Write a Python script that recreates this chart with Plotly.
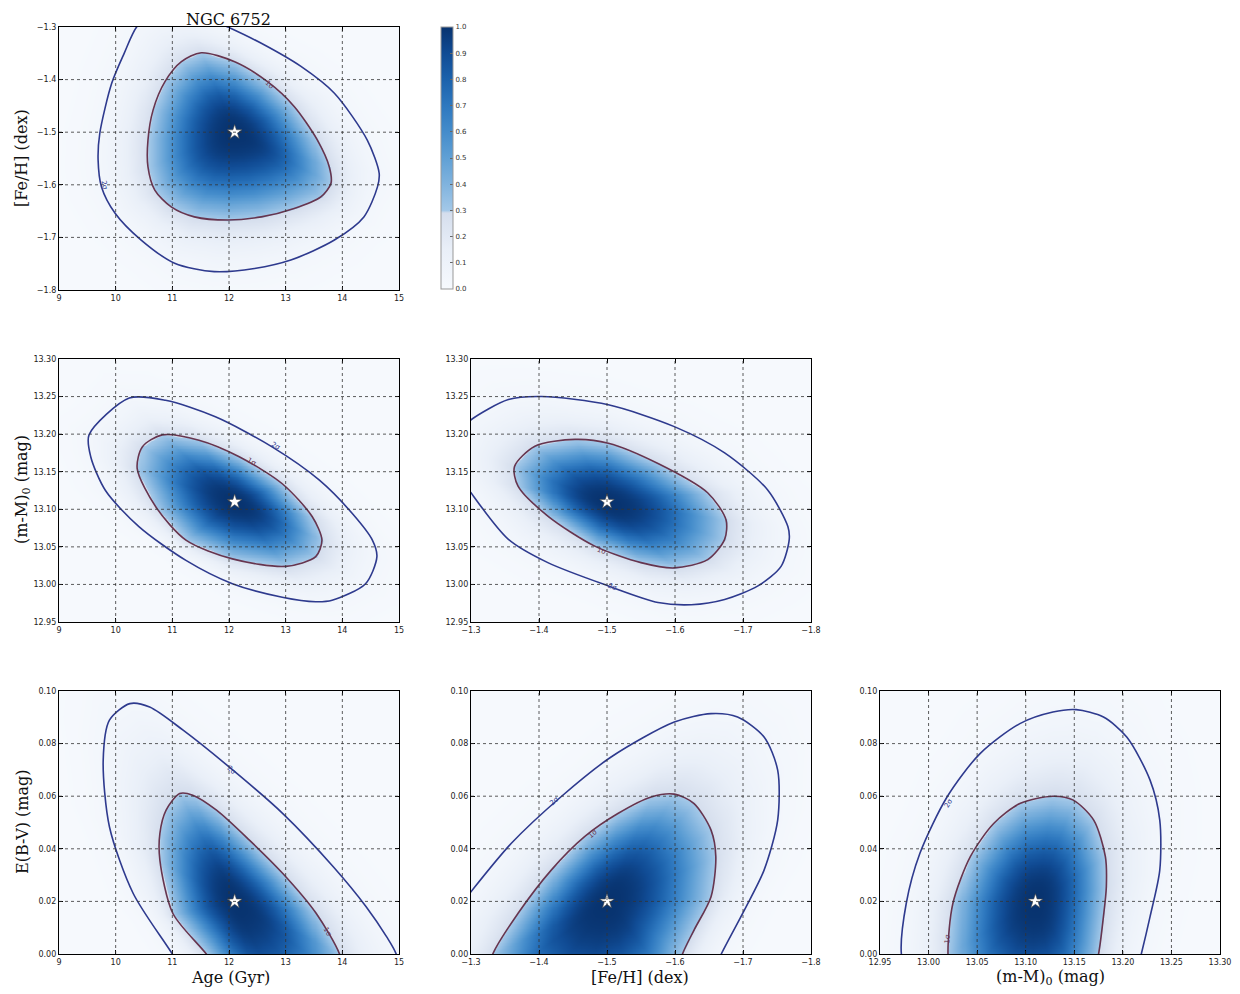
import numpy as np
import plotly.graph_objects as go

# the page places the figure 8 px from the window's top-left corner
OFF = 8
W, H = 1240 - OFF, 994 - OFF

# ---------------- data ----------------
AGE_TICKS = [9, 10, 11, 12, 13, 14, 15]
FEH_TICKS = [-1.3, -1.4, -1.5, -1.6, -1.7, -1.8]
DM_TICKS = [12.95, 13.00, 13.05, 13.10, 13.15, 13.20, 13.25, 13.30]
EBV_TICKS = [0.00, 0.02, 0.04, 0.06, 0.08, 0.10]
CBAR_TICKS = [0.0, 0.1, 0.2, 0.3, 0.4, 0.5, 0.6, 0.7, 0.8, 0.9, 1.0]

AGE_RANGE = [9, 15]
FEH_XRANGE = [-1.3, -1.8]   # [Fe/H] drawn decreasing to the right
FEH_YRANGE = [-1.8, -1.3]   # [Fe/H] drawn increasing upward
DM_RANGE = [12.95, 13.30]
EBV_RANGE = [0.0, 0.10]

BEST_AGE = 12.1
BEST_FEH = -1.5
BEST_DM = 13.11
BEST_EBV = 0.02

# Age vs [Fe/H]
AGE_FEH_1S_X = [11.51, 12.10, 12.68, 13.15, 13.56, 13.77, 13.80, 13.62, 13.15, 12.57, 11.98, 11.39, 10.98, 10.69, 10.57, 10.57, 10.66, 10.87, 11.16]
AGE_FEH_1S_Y = [-1.349, -1.366, -1.404, -1.451, -1.515, -1.566, -1.597, -1.623, -1.645, -1.661, -1.667, -1.661, -1.642, -1.610, -1.566, -1.515, -1.458, -1.404, -1.366]
AGE_FEH_2S_X = [11.98, 11.50, 11.00, 10.60, 10.37, 10.15, 9.93, 9.72, 9.69, 9.75, 9.99, 10.45, 11.04, 11.74, 12.45, 13.09, 13.86, 14.38, 14.62, 14.65, 14.44, 13.86, 13.27, 12.57]
AGE_FEH_2S_Y = [-1.300, -1.278, -1.268, -1.280, -1.300, -1.350, -1.407, -1.502, -1.553, -1.604, -1.654, -1.705, -1.749, -1.765, -1.759, -1.743, -1.705, -1.661, -1.604, -1.578, -1.515, -1.426, -1.375, -1.331]

# Age vs (m-M)0
AGE_DM_1S_X = [10.82, 11.47, 12.18, 12.94, 13.47, 13.64, 13.53, 13.00, 12.06, 11.24, 10.71, 10.38, 10.47]
AGE_DM_1S_Y = [13.199, 13.192, 13.170, 13.134, 13.090, 13.059, 13.037, 13.024, 13.034, 13.059, 13.103, 13.154, 13.183]
AGE_DM_2S_X = [9.53, 10.24, 10.88, 11.76, 12.76, 13.59, 14.18, 14.53, 14.61, 14.41, 13.82, 13.53, 12.94, 12.06, 11.24, 10.41, 9.82, 9.56]
AGE_DM_2S_Y = [13.199, 13.248, 13.245, 13.223, 13.183, 13.139, 13.094, 13.059, 13.037, 13.001, 12.979, 12.977, 12.983, 13.001, 13.032, 13.077, 13.125, 13.170]

# [Fe/H] vs (m-M)0
FEH_DM_1S_X = [-1.364, -1.394, -1.453, -1.502, -1.575, -1.648, -1.675, -1.673, -1.648, -1.599, -1.550, -1.482, -1.413, -1.369]
FEH_DM_1S_Y = [13.157, 13.184, 13.193, 13.188, 13.161, 13.122, 13.086, 13.060, 13.033, 13.022, 13.029, 13.051, 13.091, 13.131]
FEH_DM_2S_X = [-1.300, -1.355, -1.404, -1.502, -1.599, -1.673, -1.736, -1.766, -1.768, -1.756, -1.722, -1.673, -1.624, -1.575, -1.502, -1.413, -1.355, -1.300, -1.281, -1.277, -1.286]
FEH_DM_2S_Y = [13.219, 13.246, 13.250, 13.239, 13.210, 13.175, 13.126, 13.077, 13.060, 13.024, 12.998, 12.980, 12.973, 12.976, 12.998, 13.029, 13.060, 13.122, 13.148, 13.179, 13.206]

# Age vs E(B-V)
AGE_EBV_1S_X = [11.60, 11.01, 10.78, 10.78, 10.89, 11.13, 11.36, 11.78, 12.36, 12.95, 13.54, 13.95, 14.05, 13.80, 13.20, 12.60, 12.00]
AGE_EBV_1S_Y = [0.000, 0.0154, 0.0357, 0.0458, 0.0547, 0.0610, 0.0604, 0.0547, 0.0433, 0.0306, 0.0154, 0.000, -0.010, -0.022, -0.030, -0.025, -0.012]
AGE_EBV_2S_X = [11.00, 10.31, 9.89, 9.78, 9.89, 10.25, 10.60, 11.19, 12.07, 12.95, 13.84, 14.42, 14.78, 14.95, 15.05, 14.70, 13.90, 12.90, 12.00, 11.40]
AGE_EBV_2S_Y = [0.000, 0.023, 0.0484, 0.0737, 0.0889, 0.0952, 0.0939, 0.0851, 0.0699, 0.0534, 0.0332, 0.018, 0.0066, 0.000, -0.012, -0.030, -0.045, -0.050, -0.035, -0.014]

# [Fe/H] vs E(B-V)
FEH_EBV_1S_X = [-1.332, -1.369, -1.418, -1.467, -1.516, -1.565, -1.599, -1.628, -1.653, -1.660, -1.653, -1.628, -1.611, -1.598, -1.550, -1.450, -1.360, -1.318]
FEH_EBV_1S_Y = [0.000, 0.0154, 0.0319, 0.0446, 0.0534, 0.0597, 0.0608, 0.0572, 0.0471, 0.0370, 0.0218, 0.0091, 0.000, -0.012, -0.025, -0.035, -0.030, -0.014]
FEH_EBV_2S_X = [-1.300, -1.359, -1.432, -1.506, -1.599, -1.653, -1.692, -1.731, -1.751, -1.751, -1.731, -1.702, -1.668, -1.640, -1.570, -1.460, -1.340, -1.260, -1.240, -1.265]
FEH_EBV_2S_Y = [0.0237, 0.042, 0.0597, 0.0749, 0.0882, 0.0914, 0.0901, 0.0825, 0.0699, 0.0509, 0.0319, 0.0167, 0.000, -0.015, -0.035, -0.050, -0.048, -0.030, -0.005, 0.012]

# (m-M)0 vs E(B-V)
DM_EBV_1S_X = [13.020, 13.025, 13.043, 13.067, 13.094, 13.128, 13.149, 13.170, 13.182, 13.183, 13.180, 13.175, 13.165, 13.140, 13.100, 13.055, 13.025]
DM_EBV_1S_Y = [0.000, 0.0192, 0.037, 0.0496, 0.0572, 0.060, 0.0585, 0.0509, 0.037, 0.0256, 0.0142, 0.000, -0.015, -0.028, -0.033, -0.028, -0.013]
DM_EBV_2S_X = [12.972, 12.977, 12.991, 13.019, 13.053, 13.094, 13.128, 13.152, 13.180, 13.204, 13.228, 13.238, 13.238, 13.228, 13.219, 13.205, 13.160, 13.095, 13.030, 12.985]
DM_EBV_2S_Y = [0.000, 0.0192, 0.0382, 0.0597, 0.0762, 0.0876, 0.092, 0.0929, 0.0901, 0.0825, 0.0661, 0.0509, 0.0319, 0.0142, 0.000, -0.020, -0.040, -0.048, -0.040, -0.018]

# contour label positions (panel, x, y, text, angle)
LABEL_PANEL = [1, 1, 2, 2, 3, 3, 4, 4, 5, 5, 6, 6]
LABEL_X = [12.72, 9.80, 12.82, 12.40, -1.492, -1.508, 12.04, 13.74, -1.423, -1.479, 13.020, 13.019]
LABEL_Y = [-1.410, -1.600, 13.184, 13.163, 13.045, 12.997, 0.0700, 0.0085, 0.0580, 0.0458, 0.0572, 0.0055]
LABEL_TEXT = ["1σ", "2σ", "2σ", "1σ", "1σ", "2σ", "2σ", "1σ", "2σ", "1σ", "2σ", "1σ"]
LABEL_ANGLE = [43, 80, 28, 31, 20, 21, 40, 60, -41, -40, -59, -85]

# ---------------- styling ----------------
C1 = "#66354f"   # 1 sigma contour
C2 = "#2e3a8e"   # 2 sigma contour
SERIF = "DejaVu Serif"
SANS = "DejaVu Sans"

COLORSCALE = [
    [0.00, "#f6f9fd"], [0.15, "#e9eff8"], [0.29, "#d5deed"],
    [0.30, "#a3c8e8"], [0.40, "#80b3de"], [0.50, "#60a0d5"],
    [0.60, "#448ccb"], [0.70, "#2e78bf"], [0.80, "#1c62ac"],
    [0.90, "#104b94"], [1.00, "#08336f"],
]

PW, PH = 340, 263
# panel edges in window pixels
COLS = [(59, 399), (471, 811), (880, 1220)]
ROWS = [(27, 290), (359, 622), (691, 954)]


def px_x(px):
    return (px - OFF) / W


def px_y(py):
    return 1 - (py - OFF) / H


def xdom(c):
    return [px_x(COLS[c][0]), px_x(COLS[c][1])]


def ydom(r):
    return [px_y(ROWS[r][1]), px_y(ROWS[r][0])]


K = np.log(1 / 0.30)
S2 = np.sqrt(np.log(1 / 0.045) / K)


def density(cx, cy, c1x, c1y, c2x, c2y, xr, yr, n=170):
    gx = np.linspace(xr[0], xr[1], n)
    gy = np.linspace(yr[0], yr[1], n)

    def to_px(x, y):
        return ((np.asarray(x, float) - xr[0]) / (xr[1] - xr[0]) * PW,
                (np.asarray(y, float) - yr[0]) / (yr[1] - yr[0]) * PH)

    X, Y = np.meshgrid(gx, gy)
    u, v = to_px(X, Y)
    u0, v0 = to_px(cx, cy)
    th = np.arctan2(v - v0, u - u0)
    r = np.hypot(u - u0, v - v0)

    def radius(px_, py_):
        pu, pv = to_px(px_, py_)
        pu = np.append(pu, pu[0])
        pv = np.append(pv, pv[0])
        t = np.linspace(0, 1, 25)[:-1]
        du = np.concatenate([pu[i] + (pu[i + 1] - pu[i]) * t for i in range(len(pu) - 1)])
        dv = np.concatenate([pv[i] + (pv[i + 1] - pv[i]) * t for i in range(len(pv) - 1)])
        a = np.arctan2(dv - v0, du - u0)
        rr = np.hypot(du - u0, dv - v0)
        o = np.argsort(a)
        return np.interp(th, a[o], rr[o], period=2 * np.pi)

    r1 = radius(c1x, c1y)
    r2 = radius(c2x, c2y)
    t1 = r / r1
    inner = np.exp(-K * np.clip(t1, 0, None) ** 2.5)
    s = 1 + (S2 - 1) * (r - r1) / np.maximum(r2 - r1, 1e-6)
    outer = np.exp(-K * s ** 2)
    z = np.where(t1 <= 1, inner, outer)
    return gx, gy, np.round(z, 4)


def fmt_ticks(vals, nd):
    out = []
    for v in vals:
        s = f"{abs(v):.{nd}f}"
        out.append(("\u2212" + s) if v < 0 else s)
    return out


panels = [
    (1, 0, 0, AGE_RANGE, FEH_YRANGE, AGE_TICKS, FEH_TICKS, 0, 1, BEST_AGE, BEST_FEH,
     AGE_FEH_1S_X, AGE_FEH_1S_Y, AGE_FEH_2S_X, AGE_FEH_2S_Y),
    (2, 1, 0, AGE_RANGE, DM_RANGE, AGE_TICKS, DM_TICKS, 0, 2, BEST_AGE, BEST_DM,
     AGE_DM_1S_X, AGE_DM_1S_Y, AGE_DM_2S_X, AGE_DM_2S_Y),
    (3, 1, 1, FEH_XRANGE, DM_RANGE, FEH_TICKS, DM_TICKS, 1, 2, BEST_FEH, BEST_DM,
     FEH_DM_1S_X, FEH_DM_1S_Y, FEH_DM_2S_X, FEH_DM_2S_Y),
    (4, 2, 0, AGE_RANGE, EBV_RANGE, AGE_TICKS, EBV_TICKS, 0, 2, BEST_AGE, BEST_EBV,
     AGE_EBV_1S_X, AGE_EBV_1S_Y, AGE_EBV_2S_X, AGE_EBV_2S_Y),
    (5, 2, 1, FEH_XRANGE, EBV_RANGE, FEH_TICKS, EBV_TICKS, 1, 2, BEST_FEH, BEST_EBV,
     FEH_EBV_1S_X, FEH_EBV_1S_Y, FEH_EBV_2S_X, FEH_EBV_2S_Y),
    (6, 2, 2, DM_RANGE, EBV_RANGE, DM_TICKS, EBV_TICKS, 2, 2, BEST_DM, BEST_EBV,
     DM_EBV_1S_X, DM_EBV_1S_Y, DM_EBV_2S_X, DM_EBV_2S_Y),
]

fig = go.Figure()
layout = dict(
    width=W, height=H, autosize=False,
    margin=dict(l=0, r=0, t=0, b=0, pad=0, autoexpand=False),
    paper_bgcolor="white", plot_bgcolor="white",
    showlegend=False,
)
shapes = []
annotations = []

for (i, r, c, xr, yr, xt, yt, xnd, ynd, bx, by, c1x, c1y, c2x, c2y) in panels:
    xa = "x" if i == 1 else f"x{i}"
    ya = "y" if i == 1 else f"y{i}"
    gx, gy, z = density(bx, by, c1x, c1y, c2x, c2y, xr, yr)
    hm = dict(x=gx, y=gy, z=z, colorscale=COLORSCALE, zmin=0, zmax=1,
              xaxis=xa, yaxis=ya, hoverinfo="skip", zsmooth="best",
              showscale=(i == 1))
    if i == 1:
        hm["colorbar"] = dict(
            x=px_x(441), xanchor="left", xref="paper",
            y=px_y(27), yanchor="top", yref="paper",
            len=262 / H, lenmode="fraction",
            thickness=12, thicknessmode="pixels",
            xpad=0, ypad=0, outlinewidth=1, outlinecolor="#999999",
            tickvals=CBAR_TICKS, ticktext=fmt_ticks(CBAR_TICKS, 1),
            ticks="inside", ticklen=3, tickcolor="#666666",
            tickfont=dict(family=SANS, size=7, color="#333333"),
        )
    fig.add_trace(go.Heatmap(**hm))

    for cx_, cy_, col in ((c2x, c2y, C2), (c1x, c1y, C1)):
        fig.add_trace(go.Scatter(
            x=list(cx_) + [cx_[0]], y=list(cy_) + [cy_[0]], mode="lines",
            line=dict(color=col, width=1.6, shape="spline", smoothing=0.8),
            xaxis=xa, yaxis=ya, hoverinfo="skip"))

    fig.add_trace(go.Scatter(
        x=[bx], y=[by], mode="markers",
        marker=dict(symbol="star", size=11, color="white",
                    line=dict(color="#444444", width=0.6)),
        xaxis=xa, yaxis=ya, hoverinfo="skip"))

    common = dict(ticks="inside", ticklen=4, tickwidth=0.8, tickcolor="black",
                  showline=True, linecolor="black", linewidth=1.2, mirror="allticks",
                  showgrid=False, zeroline=False, layer="above traces", fixedrange=True,
                  automargin=False,
                  tickfont=dict(family=SANS, size=8, color="#222222"))
    layout["xaxis" if i == 1 else f"xaxis{i}"] = dict(
        domain=xdom(c), range=xr, tickvals=xt, ticktext=fmt_ticks(xt, xnd),
        anchor=ya, **common)
    layout["yaxis" if i == 1 else f"yaxis{i}"] = dict(
        domain=ydom(r), range=yr, tickvals=yt, ticktext=fmt_ticks(yt, ynd),
        anchor=xa, **common)

    lo_x, hi_x = min(xr), max(xr)
    lo_y, hi_y = min(yr), max(yr)
    for t in xt:
        if lo_x + 1e-9 < t < hi_x - 1e-9:
            shapes.append(dict(type="line", xref=xa, yref=f"{ya} domain",
                               x0=t, x1=t, y0=0, y1=1, layer="above",
                               line=dict(color="#333333", width=0.8, dash="dot")))
    for t in yt:
        if lo_y + 1e-9 < t < hi_y - 1e-9:
            shapes.append(dict(type="line", xref=f"{xa} domain", yref=ya,
                               x0=0, x1=1, y0=t, y1=t, layer="above",
                               line=dict(color="#333333", width=0.8, dash="dot")))

# contour labels
for p, lx, ly, lt, la in zip(LABEL_PANEL, LABEL_X, LABEL_Y, LABEL_TEXT, LABEL_ANGLE):
    xa = "x" if p == 1 else f"x{p}"
    ya = "y" if p == 1 else f"y{p}"
    col = C1 if lt == "1σ" else C2
    annotations.append(dict(x=lx, y=ly, xref=xa, yref=ya, text=lt, showarrow=False,
                            xanchor="center", yanchor="middle",
                            textangle=la, font=dict(family=SANS, size=7, color=col)))


def label(px, py, text, size=16, angle=0):
    return dict(x=px_x(px), y=px_y(py), xref="paper", yref="paper", text=text,
                xanchor="center", yanchor="middle", textangle=angle, showarrow=False,
                font=dict(family=SERIF, size=size, color="#111111"))


annotations += [
    label(228, 19, "NGC 6752", size=16),
    label(22, 158, "[Fe/H] (dex)", angle=-90),
    label(22, 490, "(m-M)<sub>0</sub> (mag)", angle=-90),
    label(22, 822, "E(B-V) (mag)", angle=-90),
    label(230, 977, "Age (Gyr)"),
    label(640, 977, "[Fe/H] (dex)"),
    label(1050, 977, "(m-M)<sub>0</sub> (mag)"),
]

layout["shapes"] = shapes
layout["annotations"] = annotations
fig.update_layout(**layout)
fig.write_html("out.html")
